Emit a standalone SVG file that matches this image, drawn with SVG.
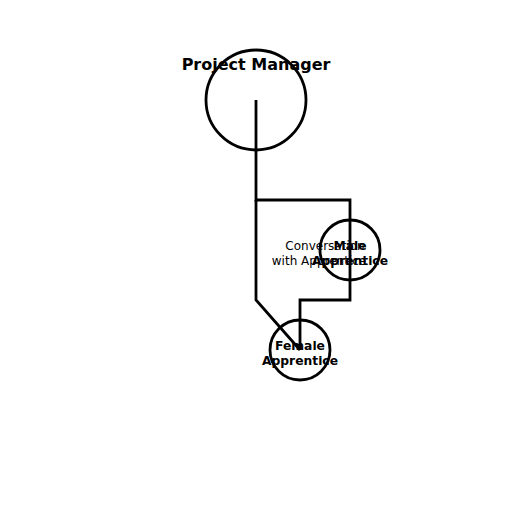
<svg xmlns="http://www.w3.org/2000/svg" width="512" height="512" viewBox="0 0 512 512">
<style>
.n{fill:none;stroke:#000;stroke-width:2.8}
.e{fill:none;stroke:#000;stroke-width:2.8}
.t{font-family:"DejaVu Sans",sans-serif;font-weight:bold;text-anchor:middle;fill:#000}
.l{font-family:"DejaVu Sans",sans-serif;font-size:12px;text-anchor:middle;fill:#000}
</style>
<rect width="512" height="512" fill="#fff"/>
<g id="connectors">
<path class="e" d="M256,100 V200 H350 V300 H300 V350"/>
<path class="e" d="M256,200 V300 L300,350"/>
<text class="l" x="325" y="250">Conversation</text>
<text class="l" x="319" y="265">with Apprentice</text>
</g>
<g id="project-manager">
<circle class="n" cx="256" cy="100" r="50"/>
<text class="t" x="256" y="70" font-size="16">Project Manager</text>
</g>
<g id="male-apprentice">
<circle class="n" cx="350" cy="250" r="30"/>
<text class="t" x="350" y="250" font-size="12.3">Male</text>
<text class="t" x="350" y="265" font-size="12.3">Apprentice</text>
</g>
<g id="female-apprentice">
<circle class="n" cx="300" cy="350" r="30"/>
<text class="t" x="300" y="350" font-size="12.3">Female</text>
<text class="t" x="300" y="365" font-size="12.3">Apprentice</text>
</g>
</svg>
